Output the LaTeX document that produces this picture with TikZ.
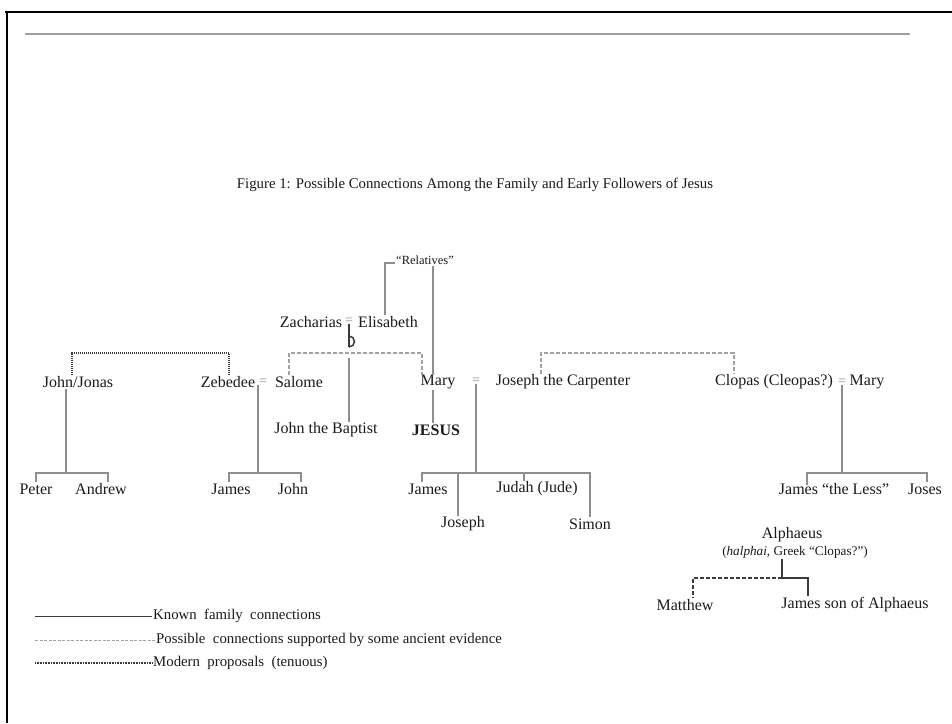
\documentclass[tikz,border=0pt]{standalone}
\usepackage{fontspec}
\setmainfont{Liberation Serif}
\definecolor{txt}{HTML}{1A1A1A}
\definecolor{known}{HTML}{8E8E8E}
\definecolor{poss}{HTML}{A2A2A2}
\definecolor{modern}{HTML}{3A3A3A}
\definecolor{rule}{HTML}{A0A0A0}
\tikzset{
  nm/.style={font=\fontsize{16}{18}\selectfont, text=txt, inner sep=1pt},
  small/.style={font=\fontsize{12.5}{14}\selectfont, text=txt, inner sep=1pt},
  lg/.style={font=\fontsize{14.8}{16}\selectfont, text=txt, inner sep=1pt, anchor=west},
  eqs/.style={font=\fontsize{14}{14}\selectfont, text=known, inner sep=0pt},
  knownline/.style={draw=known, line width=1.1pt},
  possline/.style={draw=poss, line width=1.1pt, dash pattern=on 4pt off 2pt},
  modernline/.style={draw=modern, line width=1.4pt, dash pattern=on 1pt off 1pt},
  darkline/.style={draw=modern, line width=1.5pt},
  darkdash/.style={draw=modern, line width=1.5pt, dash pattern=on 4pt off 2pt},
}
\begin{document}
\begin{tikzpicture}[x=1pt,y=-1pt]
\useasboundingbox (0,0) rectangle (952,723);
% frame
\draw[line width=2.6pt, black] (5,12) -- (952,12);
\draw[line width=2.6pt, black] (7,12) -- (7,723);
\draw[line width=1.4pt, rule] (25,34) -- (910,34);

% title
\node[font=\fontsize{14.8}{17}\selectfont, text=txt] (title) at (475,185)
  {Figure 1: Possible Connections Among the Family and Early Followers of Jesus};

% nodes
\node[small] (rel) at (425,260) {“Relatives”};
\node[nm] (zach) at (311,322) {Zacharias};
\node[eqs] (eqZE) at (349,321) {=};
\node[nm] (eli) at (388,322) {Elisabeth};

\node[nm] (johnj) at (78,382) {John/Jonas};
\node[nm] (zeb) at (228,382) {Zebedee};
\node[eqs] (eqZS) at (263,382) {=};
\node[nm] (salome) at (299,382) {Salome};
\node[nm] (mary) at (438,382) {Mary};
\node[eqs] (eqMJ) at (476,381) {=};
\node[nm] (josc) at (563,382) {Joseph the Carpenter};
\node[nm] (clopas) at (774,382) {Clopas (Cleopas?)};
\node[eqs] (eqCM) at (842,382) {=};
\node[nm] (mary2) at (867,382) {Mary};

\node[nm] (baptist) at (326,430) {John the Baptist};
\node[nm, font=\fontsize{16}{18}\selectfont\bfseries] (jesus) at (436,430) {JESUS};

\node[nm] (peter) at (36,489) {Peter};
\node[nm] (andrew) at (101,489) {Andrew};
\node[nm] (james1) at (231,489) {James};
\node[nm] (john1) at (293,489) {John};
\node[nm] (james2) at (428,489) {James};
\node[nm] (judah) at (537,489) {Judah (Jude)};
\node[nm] (jless) at (834,489) {James “the Less”};
\node[nm] (joses) at (925,489) {Joses};
\node[nm] (joseph) at (463,524) {Joseph};
\node[nm] (simon) at (590,524) {Simon};

\node[nm] (alph) at (792,535) {Alphaeus};
\node[font=\fontsize{13.2}{15}\selectfont, text=txt, inner sep=1pt] (alphsub) at (795,552) {(\textit{halphai}, Greek “Clopas?”)};
\node[nm] (matthew) at (685,605) {Matthew};
\node[nm] (jalph) at (855,605) {James son of Alphaeus};

% Relatives connections
\draw[knownline] ([yshift=-3pt]rel.west) -| (385,0 |- eli.north);
\draw[knownline] (433,0 |- rel.south) -- (433,0 |- mary.north);
\draw[knownline] (433,0 |- mary.south) -- (433,0 |- jesus.north);

% Zacharias = Elisabeth -> John the Baptist (hop over dashed line)
\draw[darkline] (349,0 |- eqZE.south) -- (349,347);
\draw[darkline] (349,347) arc[start angle=90, end angle=-90, radius=5.5];
\draw[knownline] (349,358) -- (349,0 |- baptist.north);

% possible: Salome -- Mary
\draw[possline] (289,0 |- salome.north) -- (289,353) -- (422,353) -- (422,0 |- mary.north);
% modern: John/Jonas -- Zebedee
\draw[modernline] (72,0 |- johnj.north) -- (72,353) -- (229,353) -- (229,0 |- zeb.north);
% possible: Joseph the Carpenter -- Clopas
\draw[possline] (541,0 |- josc.north) -- (541,353) -- (734,353) -- (734,0 |- clopas.north);

% John/Jonas children
\draw[knownline] (66,0 |- johnj.south) -- (66,473);
\draw[knownline] (36,0 |- peter.north) -- (36,473) -- (108,473) -- (108,0 |- andrew.north);
% Zebedee = Salome children
\draw[knownline] (258,0 |- eqZS.south) -- (258,473);
\draw[knownline] (229,0 |- james1.north) -- (229,473) -- (301,473) -- (301,0 |- john1.north);
% Mary = Joseph children
\draw[knownline] (476,0 |- eqMJ.south) -- (476,473);
\draw[knownline] (422,0 |- james2.north) -- (422,473) -- (590,473) -- (590,0 |- simon.north);
\draw[knownline] (458,473) -- (458,0 |- joseph.north);
\draw[knownline] (524,473) -- (524,0 |- judah.north);
% Clopas = Mary children
\draw[knownline] (842,0 |- eqCM.south) -- (842,473);
\draw[knownline] (807,485) -- (807,473) -- (927,473) -- (927,0 |- joses.north);

% Alphaeus children
\draw[darkline] (782,0 |- alphsub.south) -- (782,578);
\draw[darkdash] (782,578) -- (693,578) -- (693,0 |- matthew.north);
\draw[darkline] (782,578) -- (808,578) -- (808,0 |- jalph.north);

% legend
\node[lg] (l1) at (152,616) {Known\ \ family\ \ connections};
\node[lg] (l2) at (155,640) {Possible\ \ connections supported by some ancient evidence};
\node[lg] (l3) at (152,663) {Modern\ \ proposals\ \ (tenuous)};
\draw[draw=modern, line width=0.8pt] (35,0 |- l1.west) -- (l1.west);
\draw[draw=poss, line width=0.8pt, dash pattern=on 3pt off 1.5pt] (35,0 |- l2.west) -- (l2.west);
\draw[draw=modern, line width=1.1pt, dash pattern=on 1pt off 0.6pt] (35,0 |- l3.west) -- (l3.west);
\end{tikzpicture}
\end{document}
